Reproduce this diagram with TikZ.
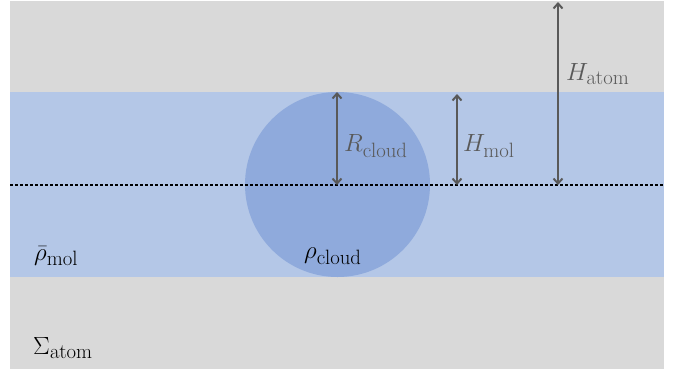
\documentclass[tikz,border=0pt]{standalone}
\usetikzlibrary{arrows.meta}
\DeclareMathSizes{20.74}{20.74}{17.28}{14.4}
\definecolor{bggray}{HTML}{D9D9D9}
\definecolor{bandblue}{HTML}{B4C7E7}
\definecolor{cloudblue}{HTML}{8FAADC}
\definecolor{arrgray}{HTML}{595959}
\begin{document}
\begin{tikzpicture}[x=1pt,y=-1pt,
  dimarrow/.style={draw=arrgray,line width=2pt,{Straight Barb[length=5pt,width=9pt]}-{Straight Barb[length=5pt,width=9pt]}},
  glabel/.style={text=arrgray,font=\huge,scale=1.2,anchor=west,inner sep=0pt},
  blabel/.style={text=black,font=\huge,scale=1.2,anchor=west,inner sep=0pt}]
\useasboundingbox (0,0) rectangle (683,373);
\fill[bggray] (10,1) rectangle (664,369);
\fill[bandblue] (10,92) rectangle (664,277);
\node[circle,fill=cloudblue,minimum size=185pt,inner sep=0pt] (cloud) at (337.5,184.5) {};
\coordinate (dl) at (10,185);
\coordinate (dr) at (664,185);
\draw[line width=2.5pt,dash pattern=on 2.5pt off 2.5pt] (dl) -- (dr);
\coordinate (rt) at (337,92);
\coordinate (rb) at (337,185);
\coordinate (mt) at (457,94);
\coordinate (mb) at (457,185);
\coordinate (at) at (558,2);
\coordinate (ab) at (558,185);
\draw[dimarrow] (rt) -- (rb);
\draw[dimarrow] (mt) -- (mb);
\draw[dimarrow] (at) -- (ab);
\node[glabel] (lr) at (344,146) {$R_{\mathrm{cloud}}$};
\node[glabel] (lm) at (463,146) {$H_{\mathrm{mol}}$};
\node[glabel] (la) at (566,74) {$H_{\mathrm{atom}}$};
\node[blabel] (lrho) at (34,256) {$\bar{\rho}_{\mathrm{mol}}$};
\node[blabel] (lc) at (304,256) {$\rho_{\mathrm{cloud}}$};
\node[blabel] (ls) at (33,348) {$\Sigma_{\mathrm{atom}}$};
\end{tikzpicture}
\end{document}
